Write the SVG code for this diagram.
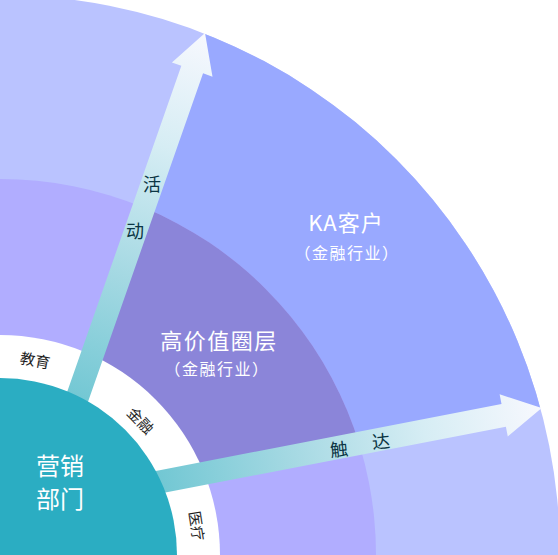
<svg xmlns="http://www.w3.org/2000/svg" width="558" height="555" viewBox="0 0 558 555">
<style>
text{font-family:"Noto Sans CJK SC","Noto Sans",sans-serif;}
.w{fill:#ffffff;text-anchor:middle;}
.ring{fill:#1e1e1e;font-size:15px;text-anchor:middle;}
.arr{fill:#0b3544;font-size:18px;text-anchor:middle;}
</style>
<defs>
<clipPath id="cOuter"><circle cx="0" cy="555" r="560"/></clipPath>
<clipPath id="cMid"><circle cx="0" cy="555" r="376"/></clipPath>
<linearGradient id="gArrow" gradientUnits="userSpaceOnUse" x1="-400" y1="0" x2="0" y2="0">
<stop offset="0" stop-color="#6EC6D2"/>
<stop offset="0.35" stop-color="#A3D8E2"/>
<stop offset="0.7" stop-color="#D6EDF4"/>
<stop offset="1" stop-color="#F7F8FE"/>
</linearGradient>
<path id="arrowShape" d="M0,0 L-38.7,-21.5 L-38.7,-11.5 L-400,-11.5 L-400,11.5 L-38.7,11.5 L-38.7,21.5 Z"/>
</defs>
<g id="ring-outer">
<circle cx="0" cy="555" r="560" fill="#BAC3FF"/>
<path d="M40,505 L238,-61 L727,-61 L727,372 Z" fill="#99A9FF" clip-path="url(#cOuter)"/>
</g>
<g id="ring-mid">
<circle cx="0" cy="555" r="376" fill="#B1ADFF"/>
<path d="M40,505 L238,-61 L727,-61 L727,372 Z" fill="#8B85D9" clip-path="url(#cMid)"/>
</g>
<g id="ring-inner">
<circle cx="0" cy="555" r="220" fill="#ffffff"/>
</g>
<g id="connectors">
<use href="#arrowShape" fill="url(#gArrow)" transform="translate(205,33) rotate(-70.7)"/>
<use href="#arrowShape" fill="url(#gArrow)" transform="translate(541.7,408) rotate(-10.95)"/>
</g>
<g id="core">
<circle cx="0" cy="555" r="177" fill="#2BADC2"/>
<text class="w" x="60" y="475" font-size="24">营销</text>
<text class="w" x="60" y="508" font-size="24">部门</text>
</g>
<g id="label-edu"><text class="ring" transform="translate(35,361) rotate(10)" y="5">教育</text></g>
<g id="label-fin"><text class="ring" transform="translate(140,421) rotate(46)" y="5">金融</text></g>
<g id="label-med"><text class="ring" transform="translate(196,526) rotate(81)" y="5">医疗</text></g>
<g id="label-activity">
<text class="arr" x="152" y="191">活</text>
<text class="arr" x="135" y="238">动</text>
</g>
<g id="label-reach">
<text class="arr" transform="translate(339,450) rotate(-6)" y="6">触</text>
<text class="arr" transform="translate(381,442) rotate(-6)" y="6">达</text>
</g>
<g id="node-highvalue">
<text class="w" x="219" y="349" font-size="22" letter-spacing="1.5">高价值圈层</text>
<text class="w" x="217" y="375" font-size="16" letter-spacing="1.5">（金融行业）</text>
</g>
<g id="node-ka">
<text class="w" x="346" y="231" font-size="22" letter-spacing="1">KA客户</text>
<text class="w" x="347" y="259" font-size="16" letter-spacing="1.5">（金融行业）</text>
</g>
</svg>
